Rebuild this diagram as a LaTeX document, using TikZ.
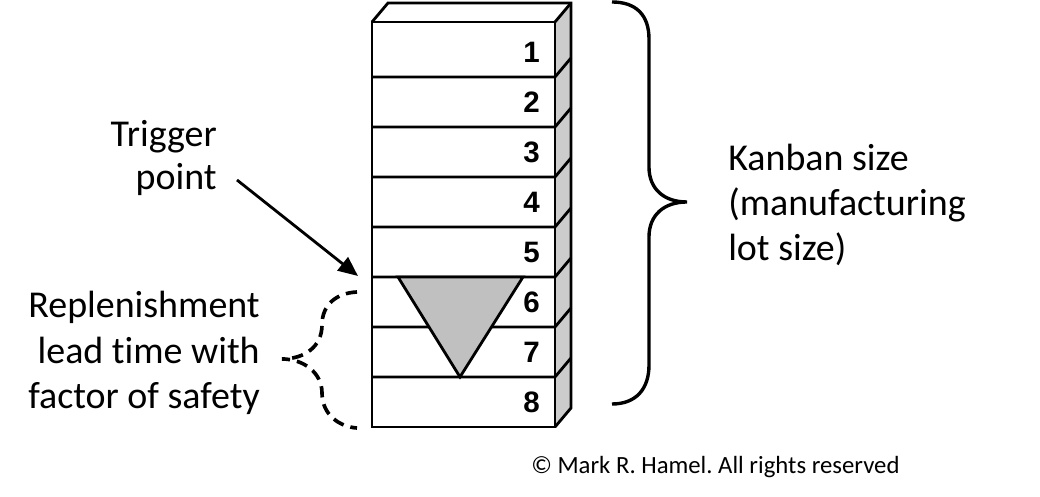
\documentclass[tikz,border=0pt]{standalone}
\usepackage{fontspec}
\setmainfont{Carlito}[Ligatures=NoCommon]
\newfontfamily\digitfont{Liberation Sans}
\usepackage{tikz}
\usetikzlibrary{arrows.meta, positioning, calc}
\definecolor{sidegray}{HTML}{CCCCCC}
\definecolor{trigray}{HTML}{C0C0C0}

\begin{document}
\begin{tikzpicture}[font=\fontsize{27}{30}\selectfont]
  %% Kanban bin stack, scale: 1 unit = 40 px
  %% front face x 9.3 -> 13.875, rows 1.25 high, depth (0.4,0.475)
  \useasboundingbox (0,0) rectangle (26,12.425);

  % Side face (grey) and top face of the stack
  \fill[sidegray](13.875,1.75) -- (14.275,2.225) -- (14.275,12.35) -- (13.875,11.875) -- cycle;
  \draw[line width=2pt](9.3,11.875) -- (9.7,12.35) -- (14.275,12.35) -- (14.275,2.225) -- (13.875,1.75);
  \draw[line width=2pt](13.875,11.875) -- (14.275,12.35);

  % Front face with 8 rows
  \draw[line width=2pt](9.3,1.75) rectangle (13.875,11.875);
  \foreach \y in {3.0, 4.25, 5.5, 6.75, 8.0, 9.25, 10.5}{
    \draw[line width=2pt](9.3,\y) -- (13.875,\y) -- ++(0.4,0.475);
  }

  % Trigger triangle over rows 6 and 7
  \filldraw[fill=trigray,line width=2pt](9.95,5.5) -- (13.075,5.5) -- (11.5,3.0) -- cycle;

  % Row numbers
  \foreach \k in {1,...,8}{
    \node[anchor=east,inner sep=0,font=\fontsize{21}{24}\digitfont\bfseries\selectfont]
      (num\k) at (13.5,{11.125-1.25*(\k-1)}) {\k};
  }

  % Labels
  \node[anchor=east,align=right,inner sep=0] (trigger) at (5.425,8.475) {Trigger\\point};
  \node[anchor=east,align=right,inner sep=0,font=\fontsize{27}{32.5}\selectfont]
    (replen) at (6.5,3.6) {Replenishment\\lead time with\\factor of safety};
  \node[anchor=west,align=left,inner sep=0,font=\fontsize{27}{32}\selectfont]
    (kanban) at (18.2,7.3) {Kanban size\\(manufacturing\\lot size)};
  \node[anchor=west,inner sep=0,font=\fontsize{17.6}{20}\selectfont]
    (copyright) at (13.275,0.75) {© Mark R. Hamel.\ All rights reserved};

  % Trigger arrow
  \coordinate (tail) at (5.925,7.925);
  \coordinate (trigpt) at (8.95,5.525);
  \draw[line width=2pt,-{Triangle[length=14pt,width=12pt]}](tail) -- (trigpt);

  % Kanban size brace
  \draw[line width=2.4pt](15.3,12.375) .. controls (15.9,12.375) and (16.225,12.05) .. (16.225,11.45)
    -- (16.225,8.25) .. controls (16.225,7.7) and (16.6,7.375) .. (17.175,7.375)
    .. controls (16.6,7.375) and (16.225,7.05) .. (16.225,6.5)
    -- (16.225,3.3) .. controls (16.225,2.7) and (15.9,2.325) .. (15.3,2.325);

  % Replenishment brace (dashed)
  \draw[line width=2.6pt,dash pattern=on 8pt off 5pt](8.925,5.125)
    .. controls (8.4,5.1) and (8.05,4.8) .. (8.05,4.3)
    .. controls (8.05,3.75) and (7.6,3.45) .. (7.05,3.45)
    .. controls (7.6,3.45) and (8.05,3.1) .. (8.05,2.6)
    .. controls (8.05,2.05) and (8.5,1.75) .. (8.925,1.725);
\end{tikzpicture}
\end{document}
